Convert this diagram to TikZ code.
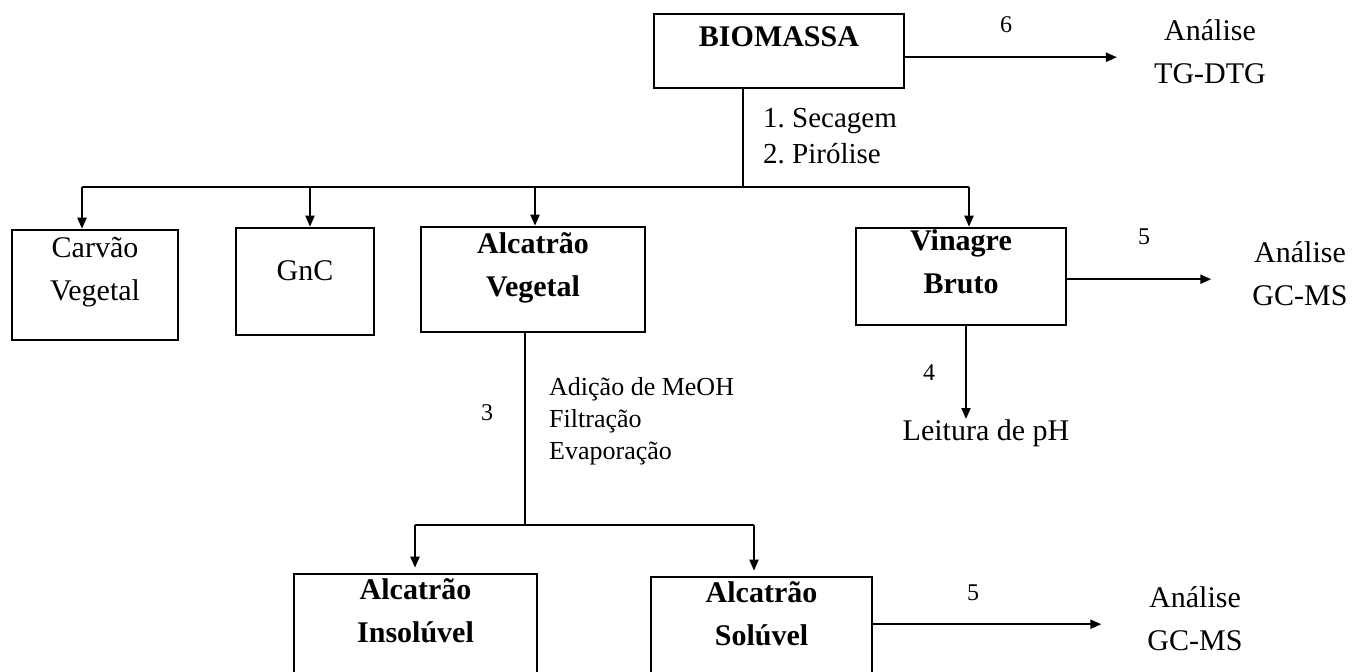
\documentclass[tikz,border=0pt]{standalone}
\usepackage{fontspec}
\setmainfont{Liberation Serif}
\usetikzlibrary{arrows.meta}
\frenchspacing
\newcommand\bigtxt{\fontsize{30}{43}\selectfont}
\newcommand\steptxt{\fontsize{26}{32}\selectfont}
\tikzset{
  proc box/.style={draw,line width=2.6pt,inner sep=0pt,align=center,font=\bigtxt,text height=21pt},
  bold box/.style={proc box,font=\bigtxt\bfseries},
  two lines/.style={text height=64pt},
  plain txt/.style={inner sep=0pt,align=center,anchor=north,font=\bigtxt,text height=21pt},
  step txt/.style={inner sep=0pt,align=left,anchor=north west},
  num/.style={inner sep=0pt,font=\fontsize{24}{28}\selectfont},
  flow/.style={line width=2pt,-{Triangle[length=11pt,width=9pt]}},
  link/.style={line width=2pt}
}
\begin{document}
\begin{tikzpicture}[x=1pt,y=-1pt]
\clip (0,0) rectangle (1353,672);
% boxes
\node[bold box,minimum width=250pt,minimum height=74pt,text depth=31pt] (bio) at (779,51) {BIOMASSA};
\node[proc box,two lines,minimum width=166pt,minimum height=110pt,text depth=34pt] (carv) at (95,285) {Carvão\\Vegetal};
\node[proc box,minimum width=138pt,minimum height=107pt,text depth=24pt] (gnc) at (305,281.5) {GnC};
\node[bold box,two lines,minimum width=224pt,minimum height=105pt,text depth=31pt] (alc) at (533,279.5) {Alcatrão\\Vegetal};
\node[bold box,two lines,minimum width=210pt,minimum height=97pt,text depth=31pt] (vin) at (961,276.5) {Vinagre\\Bruto};
\node[bold box,two lines,minimum width=243pt,minimum height=126pt,text depth=54pt] (ins) at (415.5,637) {Alcatrão\\Insolúvel};
\node[bold box,two lines,minimum width=221pt,minimum height=123pt,text depth=51pt] (sol) at (761.5,638.5) {Alcatrão\\Solúvel};
% texts
\node[plain txt,two lines,text depth=12pt] (ana1) at (1210,19) {Análise\\TG-DTG};
\node[plain txt,two lines,text depth=12pt] (ana2) at (1300,241) {Análise\\GC-MS};
\node[plain txt,two lines,text depth=12pt] (ana3) at (1195,586) {Análise\\GC-MS};
\node[plain txt] (ph) at (986,419) {Leitura de pH};
\node[step txt,font=\fontsize{29}{36}\selectfont,text height=56pt] (steps1) at (763,107) {1. Secagem\\2. Pirólise};
\node[step txt,font=\steptxt,text height=83pt] (steps3) at (549,376) {Adição de MeOH\\Filtração\\Evaporação};
\node[num] (n6) at (1006,25) {6};
\node[num] (n5a) at (1144,237) {5};
\node[num] (n4) at (929,373) {4};
\node[num] (n3) at (487,413) {3};
\node[num] (n5b) at (973,593) {5};
% junctions
\coordinate (j1) at (743,187);
\coordinate (b1) at (82,187);
\coordinate (b2) at (310,187);
\coordinate (b3) at (535,187);
\coordinate (b4) at (969,187);
\coordinate (j2) at (525,525);
\coordinate (b5) at (415,525);
\coordinate (b6) at (754,525);
% connectors
\draw[link] (bio.south -| j1) -- (j1);
\draw[link] (b1) -- (b4);
\foreach \b/\n in {b1/carv,b2/gnc,b3/alc,b4/vin}
  \draw[flow] (\b) -- (\b |- \n.north);
\draw[flow] (bio.east |- ana1.west) -- ([xshift=-37pt]ana1.west);
\draw[flow] (vin.east |- ana2.west) -- ([xshift=-41pt]ana2.west);
\draw[flow] ([xshift=5pt]vin.south) -- ([xshift=-20pt]ph.north);
\draw[link] (alc.south -| j2) -- (j2);
\draw[link] (b5) -- (b6);
\foreach \b/\n in {b5/ins,b6/sol}
  \draw[flow,shorten >=5pt] (\b) -- (\b |- \n.north);
\draw[flow] (sol.east |- ana3.west) -- ([xshift=-46pt]ana3.west);
\end{tikzpicture}
\end{document}
